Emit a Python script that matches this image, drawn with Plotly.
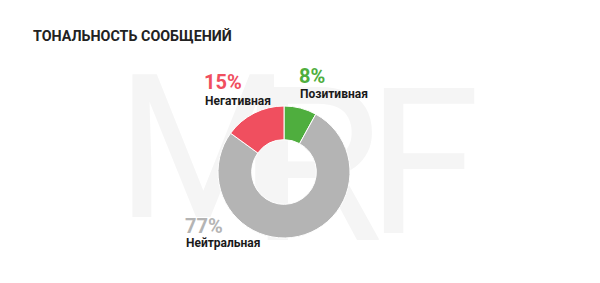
import base64
import plotly.graph_objects as go

# Data
labels = ["Позитивная", "Нейтральная", "Негативная"]
values = [8, 77, 15]
colors = ["#4fae3e", "#b4b4b4", "#f04f5f"]
title = "ТОНАЛЬНОСТЬ СООБЩЕНИЙ"

W, H = 600, 283

def px(x):
    return x / W

def py(y):
    return 1 - y / H

cx, cy, r = 284, 172, 66

fig = go.Figure(go.Pie(
    labels=labels,
    values=values,
    marker=dict(colors=colors, line=dict(color="white", width=1)),
    hole=0.49,
    sort=False,
    direction="clockwise",
    rotation=0,
    textinfo="none",
    hoverinfo="label+percent",
    showlegend=False,
    domain=dict(x=[px(cx - r), px(cx + r)], y=[py(cy + r), py(cy - r)]),
))

# label positions (pixel, left/center-y) for each category
label_pos = {
    "Негативная": (202, 82, 101),
    "Позитивная": (297, 76, 94),
    "Нейтральная": (183, 226, 243),
}

annotations = [dict(
    text=f"<b>{title}</b>", x=px(31), y=py(36), xref="paper", yref="paper",
    xanchor="left", yanchor="middle", showarrow=False,
    font=dict(family="Roboto", size=14.3, color="#222222"),
)]
total = sum(values)
for lab, val, col in zip(labels, values, colors):
    lx, y1, y2 = label_pos[lab]
    annotations.append(dict(
        text=f"<b>{round(val / total * 100)}%</b>", x=px(lx), y=py(y1),
        xref="paper", yref="paper", xanchor="left", yanchor="middle",
        showarrow=False, font=dict(family="Roboto", size=20, color=col),
    ))
    annotations.append(dict(
        text=f"<b>{lab}</b>", x=px(lx + 1), y=py(y2),
        xref="paper", yref="paper", xanchor="left", yanchor="middle",
        showarrow=False, font=dict(family="Roboto", size=12, color="#1a1a1a"),
    ))

# faint watermark drawn below the chart
svg = f'''<svg xmlns="http://www.w3.org/2000/svg" width="{W}" height="{H}" viewBox="0 0 {W} {H}">
<g fill="#f5f5f5" font-family="Roboto" font-weight="400">
<text x="116" y="217" font-size="200">M</text>
<text x="250" y="240" font-size="215">R</text>
<text x="367" y="233" font-size="205">F</text>
</g></svg>'''
src = "data:image/svg+xml;base64," + base64.b64encode(svg.encode("utf-8")).decode()

fig.update_layout(
    width=W, height=H,
    margin=dict(l=0, r=0, t=0, b=0),
    paper_bgcolor="white",
    plot_bgcolor="white",
    annotations=annotations,
    images=[dict(source=src, xref="paper", yref="paper", x=0, y=1,
                 sizex=1, sizey=1, xanchor="left", yanchor="top",
                 sizing="stretch", layer="below")],
)

fig.write_html("out.html")
